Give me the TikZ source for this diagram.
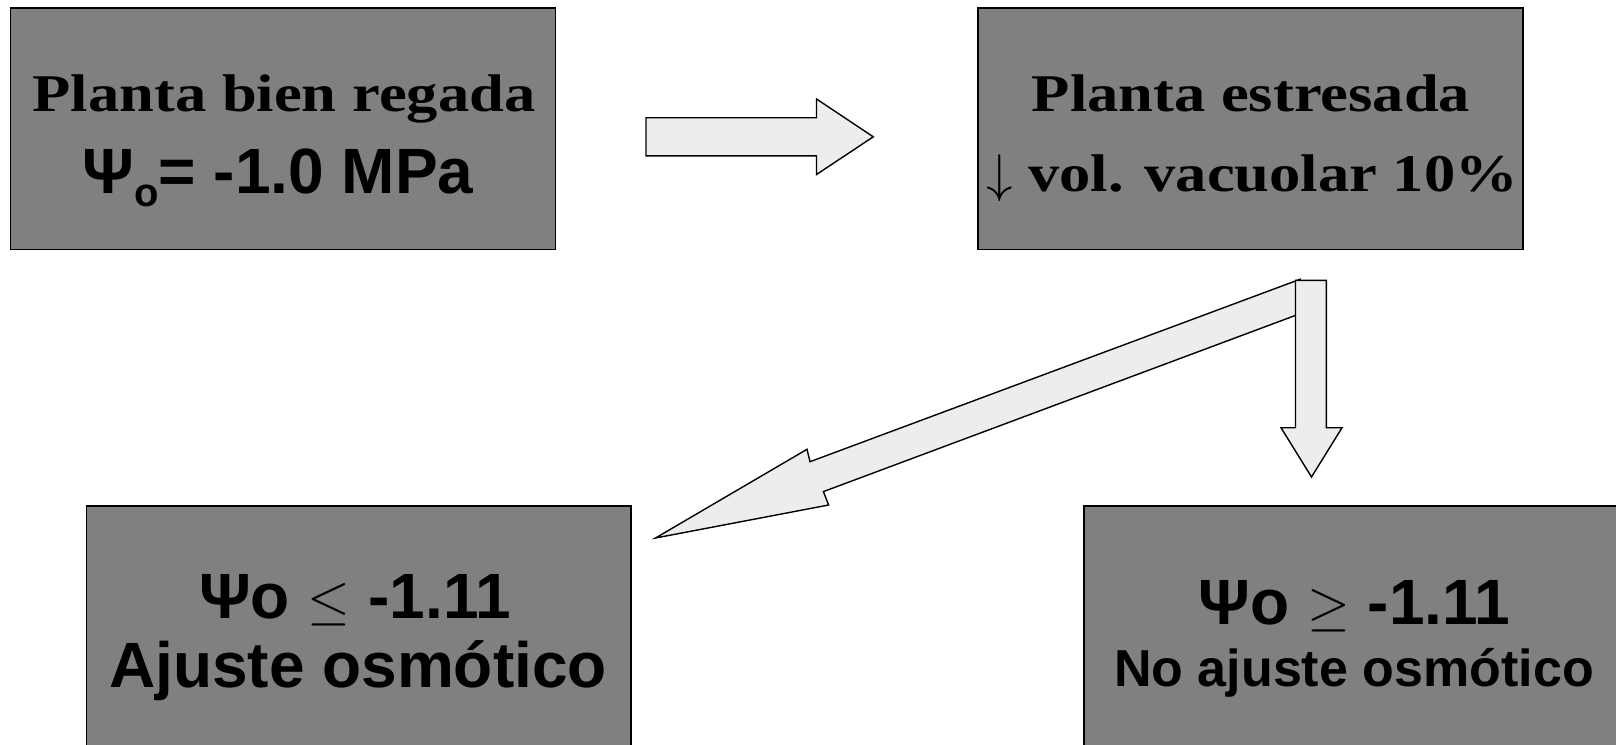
\documentclass[tikz,border=0pt]{standalone}
\usepackage{fontspec}
\newfontfamily\serifbold{Liberation Serif}[FakeStretch=1.18]
\newfontfamily\sansbold{Liberation Sans}
\definecolor{boxgray}{RGB}{128,128,128}
\definecolor{arrowgray}{RGB}{237,237,237}
% math symbol set at 10pt and enlarged to the size of the surrounding text
\newcommand\bigsym[2]{\scalebox{#1}{\fontsize{10}{12}\selectfont$#2$}}
\begin{document}
\begin{tikzpicture}[x=1pt,y=-1pt,
  box/.style={draw=black, line width=1.6pt, fill=boxgray, inner sep=0pt},
  blockarrow/.style={draw=black, line width=1.4pt, fill=arrowgray, line join=miter},
  serifline/.style={anchor=base, inner sep=0pt, font=\serifbold\bfseries\fontsize{53}{53}\selectfont},
  sansline/.style={anchor=base, inner sep=0pt, font=\sansbold\bfseries\fontsize{64}{64}\selectfont},
]
\clip (0,0) rectangle (1616,744);
\fill[white] (0,0) rectangle (1616,744);

% boxes
\node[box, minimum width=545.2pt, minimum height=241.2pt] (b1) at (282.9,128.8) {};
\node[box, minimum width=545pt, minimum height=241.2pt] (b2) at (1250.5,128.8) {};
\node[box, minimum width=544.1pt, minimum height=294pt] (b3) at (358.65,653) {};
\node[box, minimum width=596pt, minimum height=294pt] (b4) at (1382,653) {};

% box texts
\node[serifline] (t1a) at (284,111) {Planta bien regada};
\node[sansline] (t1b) at (278,193) {Ψ\raisebox{-13pt}{\fontsize{40}{40}\selectfont o}= -1.0 MPa};
\node[serifline] (t2a) at (1251,111) {Planta estresada};
\node[serifline] (t2b) at (1252,191) {\bigsym{5.3}{\downarrow} vol. vacuolar 10\%};
\node[sansline] (t3a) at (355,618) {Ψo \bigsym{5.5}{\leq} -1.11};
\node[sansline] (t3b) at (358,687) {Ajuste osmótico};
\node[sansline] (t4a) at (1354.5,624) {Ψo \bigsym{5.5}{\geq} -1.11};
\node[sansline, font=\sansbold\bfseries\fontsize{52}{52}\selectfont] (t4b) at (1354,686) {No ajuste osmótico};

% block arrow between the top boxes
\draw[blockarrow] (646,117.7) -- (816.5,117.7) -- (816.5,99) -- (873.3,136.8)
  -- (816.5,174.5) -- (816.5,155.8) -- (646,155.8) -- cycle;

% diagonal block arrow towards the lower left box
\draw[blockarrow] (1300,279.3) -- (810,461.7) -- (807,449.3) -- (655.5,538)
  -- (828.6,505) -- (823.4,491.6) -- (1295.5,315.4) -- cycle;

% vertical block arrow towards the lower right box
\draw[blockarrow] (1295.5,280.3) -- (1326.4,280.3) -- (1326.4,427.7) -- (1342,427.7)
  -- (1311.5,477) -- (1281,427.7) -- (1295.5,427.7) -- cycle;
\end{tikzpicture}
\end{document}
